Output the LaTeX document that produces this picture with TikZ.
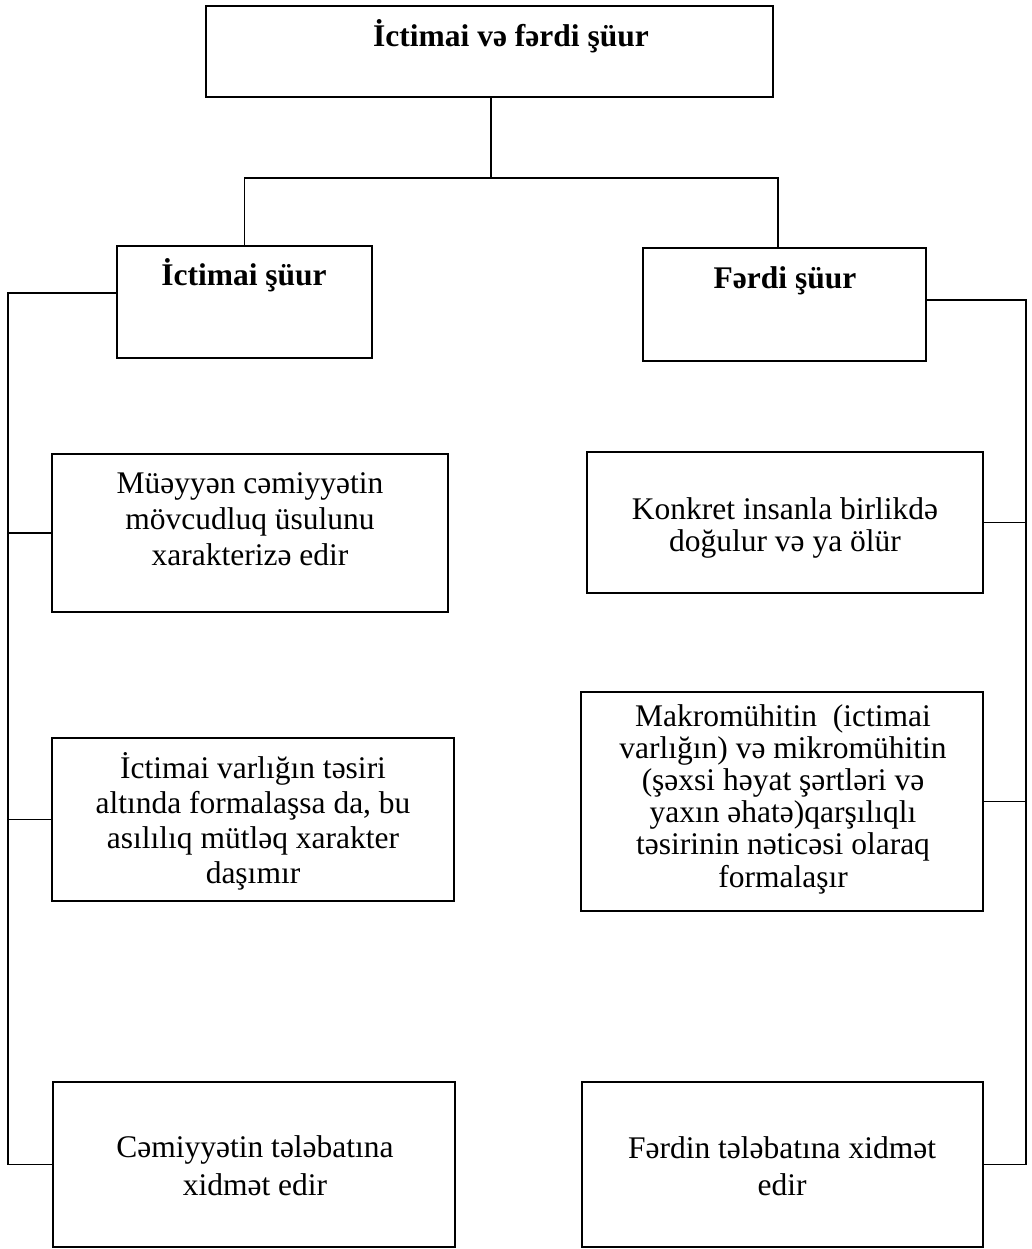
\documentclass[tikz,border=0pt]{standalone}
\usepackage{fontspec}
\setmainfont{Liberation Serif}
\begin{document}
\begin{tikzpicture}[x=1pt,y=-1pt,
  boxs/.style={draw=black, line width=1.9pt, inner sep=0pt, outer sep=0pt, anchor=north west, rectangle},
  conn/.style={draw=black, line width=1.7pt},
  txt/.style={inner sep=0pt, outer sep=0pt, anchor=north, align=center},
  head/.style={txt, font=\fontsize{31.5}{36}\selectfont\bfseries}]
\fill[white] (0,0) rectangle (1032,1249);
\useasboundingbox (0,0) rectangle (1032,1249);
% boxes
\node[boxs, minimum width=567pt, minimum height=91pt] (top) at (206,6) {};
\node[boxs, minimum width=255pt, minimum height=112pt] (ic) at (117,246) {};
\node[boxs, minimum width=283pt, minimum height=113pt] (fe) at (643,248) {};
\node[boxs, minimum width=396pt, minimum height=158pt] (l1) at (52,454) {};
\node[boxs, minimum width=402pt, minimum height=163pt] (l2) at (52,738) {};
\node[boxs, minimum width=402pt, minimum height=165pt] (l3) at (53,1082) {};
\node[boxs, minimum width=396pt, minimum height=141pt] (r1) at (587,452) {};
\node[boxs, minimum width=402pt, minimum height=219pt] (r2) at (581,692) {};
\node[boxs, minimum width=401pt, minimum height=165pt] (r3) at (582,1082) {};
% texts
\node[head] (ttop) at (511,15.5) {\rule{0pt}{31.5pt}İctimai və fərdi şüur};
\node[head] (tic) at (244,253.5) {\rule{0pt}{31.5pt}İctimai şüur};
\node[head] (tfe) at (785,256.5) {\rule{0pt}{31.5pt}Fərdi şüur};
\node[txt, font=\fontsize{31.5}{36}\selectfont] (tl1) at (250,461.5)
  {\rule{0pt}{31.5pt}Müəyyən cəmiyyətin\\mövcudluq üsulunu\\xarakterizə edir};
\node[txt, font=\fontsize{31.5}{35}\selectfont] (tl2) at (253,746.5)
  {\rule{0pt}{31.5pt}İctimai varlığın təsiri\\altında formalaşsa da, bu\\asılılıq mütləq xarakter\\daşımır};
\node[txt, font=\fontsize{31.5}{38.5}\selectfont] (tl3) at (255,1125.5)
  {\rule{0pt}{31.5pt}Cəmiyyətin tələbatına\\xidmət edir};
\node[txt, font=\fontsize{31.5}{32.5}\selectfont] (tr1) at (785,487.5)
  {\rule{0pt}{31.5pt}Konkret insanla birlikdə\\doğulur və ya ölür};
\node[txt, font=\fontsize{31.5}{32.2}\selectfont] (tr2) at (783,694.5)
  {\rule{0pt}{31.5pt}Makromühitin\ \ (ictimai\\varlığın) və mikromühitin\\(şəxsi həyat şərtləri və\\yaxın əhatə)qarşılıqlı\\təsirinin nəticəsi olaraq\\formalaşır};
\node[txt, font=\fontsize{31.5}{37}\selectfont] (tr3) at (782,1126.5)
  {\rule{0pt}{31.5pt}Fərdin tələbatına xidmət\\edir};
% connector coordinates
\coordinate (hub) at (491,178);
\coordinate (lx) at (8,1164.5);
\coordinate (rx) at (1026,1164.5);
% tree connectors
\draw[conn] (top.south -| hub) -- (hub);
\draw[conn] (ic.north) |- (hub);
\draw[conn] (fe.north -| 778,0) |- (hub);
% left bracket
\draw[conn] ([yshift=-47pt]ic.north west) -| (lx) -- (l3.west);
\draw[conn] (l1.west) -- (l1.west -| lx);
\draw[conn] (l2.west) -- (l2.west -| lx);
% right bracket
\draw[conn] ([yshift=-52pt]fe.north east) -| (rx) -- (r3.east);
\draw[conn] (r1.east) -- (r1.east -| rx);
\draw[conn] (r2.east) -- (r2.east -| rx);
\end{tikzpicture}
\end{document}
